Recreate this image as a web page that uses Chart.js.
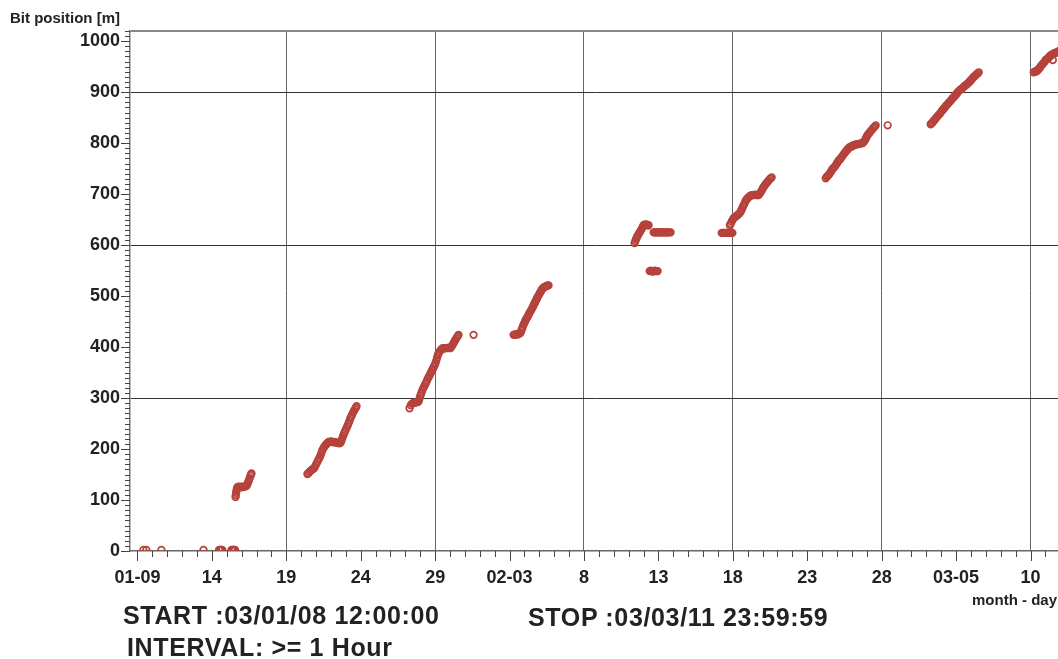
<!DOCTYPE html>
<html>
<head>
<meta charset="utf-8">
<script src="https://cdn.jsdelivr.net/npm/chart.js@4.4.0/dist/chart.umd.min.js"></script>
<style>
  html, body { margin: 0; padding: 0; background: #fff; overflow: hidden; }
  #wrap { position: relative; width: 1058px; height: 659px; overflow: hidden; }
  #chart { position: absolute; left: 0; top: 0; }
  .txt { position: absolute; font-family: "Liberation Sans", Arial, sans-serif; font-weight: bold;
         color: #222; white-space: nowrap; line-height: 1; }
  .big { font-size: 25px; letter-spacing: 0.65px; }
</style>
</head>
<body>
<div id="wrap">
  <canvas id="chart" width="1066" height="659"></canvas>
  <div class="txt" style="left:10px; top:10px; font-size:15px;">Bit position [m]</div>
  <div class="txt" style="right:1px; top:592px; font-size:15px;">month - day</div>
  <div class="txt big" style="left:123px; top:603px;">START :03/01/08 12:00:00</div>
  <div class="txt big" style="left:528px; top:605px;">STOP :03/03/11 23:59:59</div>
  <div class="txt big" style="left:127px; top:635px;">INTERVAL: &gt;= 1 Hour</div>
</div>
<script>
// x values are day-of-year 2003 (Jan 9 = 9, Feb 3 = 34, Mar 5 = 64), y is bit position in metres
const xMin = 8.5, xMax = 71;          // 03/01/08 12:00 .. 03/03/11 23:59:59
const yMin = 0, yMax = 1020;

// tick labels on the time axis
const labelDays = [9, 14, 19, 24, 29, 34, 39, 44, 49, 54, 59, 64, 69];
const labelText = ['01-09', '14', '19', '24', '29', '02-03', '8', '13', '18', '23', '28', '03-05', '10'];
const gridDays = [19, 29, 39, 49, 59, 69];
const gridDepths = [300, 600, 900];

// runs
const daysA = [9.40, 9.60, 10.61, 13.44, 14.48, 14.55, 14.62, 14.70, 15.32, 15.38, 15.44, 15.50, 15.56];
const posA  = [2, 2, 2, 2, 2, 2, 2, 2, 2, 2, 2, 2, 2];

const daysB = [15.59, 15.61, 15.63, 15.65, 15.68, 15.72, 15.78, 15.86, 15.94, 16.02, 16.10, 16.18, 16.26,
               16.33, 16.39, 16.44, 16.49, 16.54, 16.59, 16.63, 16.66];
const posB  = [106, 110, 114, 118, 122, 125, 126, 125, 126, 125, 126, 126, 127,
               128, 131, 135, 139, 143, 147, 150, 152];

const daysC = [20.42, 20.50, 20.58, 20.66, 20.74, 20.83, 20.90, 20.97, 21.04, 21.11, 21.18, 21.25, 21.32,
               21.38, 21.43, 21.50, 21.57, 21.64, 21.71, 21.78, 21.84, 21.92, 22.00, 22.08, 22.16, 22.24,
               22.32, 22.40, 22.48, 22.56, 22.64, 22.70, 22.76, 22.82, 22.88, 22.93, 22.98, 23.04, 23.10,
               23.15, 23.20, 23.26, 23.31, 23.37, 23.43, 23.49, 23.55, 23.61, 23.67, 23.72];
const posC  = [151, 153, 156, 158, 160, 161, 164, 168, 172, 176, 180, 184, 189,
               194, 198, 202, 205, 208, 210, 212, 214, 214, 215, 214, 213, 214,
               213, 212, 212, 211, 212, 216, 221, 226, 230, 234, 237, 241, 245,
               248, 252, 256, 261, 264, 268, 272, 275, 278, 281, 284];

const daysD = [27.28, 27.36, 27.44, 27.52, 27.60, 27.68, 27.76, 27.84, 27.90, 27.95, 28.00, 28.05, 28.10,
               28.15, 28.21, 28.27, 28.33, 28.39, 28.45, 28.51, 28.56, 28.62, 28.68, 28.74, 28.80, 28.86,
               28.92, 28.98, 29.03, 29.08, 29.13, 29.18, 29.23, 29.30, 29.37, 29.44, 29.50, 29.58, 29.66,
               29.74, 29.82, 29.90, 29.97, 30.03, 30.10, 30.17, 30.24, 30.30, 30.36, 30.42, 30.48, 30.53,
               30.57, 31.58];
const posD  = [280, 286, 289, 290, 291, 291, 292, 292, 294, 299, 304, 308, 312,
               316, 320, 323, 327, 330, 334, 338, 341, 344, 348, 351, 355, 358,
               362, 365, 369, 374, 379, 384, 388, 391, 394, 396, 398, 397, 398,
               398, 398, 399, 398, 398, 401, 404, 408, 411, 414, 417, 420, 422,
               424, 424];

const daysE = [34.27, 34.35, 34.43, 34.51, 34.59, 34.67, 34.74, 34.79, 34.84, 34.89, 34.94, 34.99, 35.04,
               35.08, 35.14, 35.20, 35.26, 35.32, 35.38, 35.44, 35.50, 35.55, 35.60, 35.65, 35.70, 35.75,
               35.80, 35.85, 35.88, 35.94, 36.00, 36.06, 36.12, 36.17, 36.22, 36.29, 36.36, 36.43, 36.50,
               36.56, 36.62];
const posE  = [424, 425, 424, 426, 425, 427, 428, 432, 436, 440, 444, 447, 450,
               453, 456, 459, 462, 466, 469, 472, 475, 478, 481, 484, 487, 490,
               493, 496, 498, 501, 504, 507, 510, 513, 515, 517, 518, 519, 520,
               521, 521];

const daysF = [42.40, 42.45, 42.50, 42.55, 42.60, 42.66, 42.72, 42.78, 42.84, 42.90, 42.96, 43.00, 43.06,
               43.12, 43.18, 43.24, 43.30, 43.34,
               43.68, 43.76, 43.84, 43.92, 44.00, 44.08, 44.16, 44.24, 44.32, 44.40, 44.48, 44.56, 44.64,
               44.72, 44.82,
               43.41, 43.48, 43.55, 43.62, 43.69, 43.76, 43.83, 43.90, 43.95];
const posF  = [604, 608, 612, 615, 618, 621, 624, 627, 630, 633, 636, 639, 640,
               640, 640, 640, 639, 639,
               625, 625, 625, 625, 625, 625, 625, 625, 625, 625, 625, 625, 625,
               625, 625,
               549, 550, 549, 548, 549, 550, 549, 549, 549];

const daysG = [48.25, 48.33, 48.41, 48.49, 48.57, 48.65, 48.73, 48.81, 48.89, 48.97, 48.80, 48.86, 48.92,
               48.98, 49.05, 49.12, 49.20, 49.28, 49.36, 49.44, 49.52, 49.58, 49.64, 49.70, 49.76, 49.82,
               49.88, 49.94, 49.99, 50.06, 50.13, 50.20, 50.27, 50.33, 50.41, 50.49, 50.57, 50.65, 50.73,
               50.80, 50.87, 50.94, 51.01, 51.07, 51.14, 51.21, 51.28, 51.35, 51.42, 51.49, 51.55, 51.61];
const posG  = [624, 624, 624, 624, 624, 624, 624, 624, 624, 624, 639, 642, 646,
               649, 653, 655, 656, 658, 660, 662, 665, 669, 673, 677, 680, 684,
               688, 690, 692, 694, 696, 697, 698, 698, 698, 699, 698, 698, 698,
               701, 704, 707, 711, 714, 717, 720, 722, 725, 727, 730, 731, 733];

const daysH = [55.24, 55.31, 55.38, 55.45, 55.52, 55.59, 55.65, 55.71, 55.78, 55.85, 55.92, 55.99, 56.05,
               56.12, 56.18, 56.25, 56.32, 56.39, 56.46, 56.53, 56.59, 56.66, 56.72, 56.78, 56.85, 56.92,
               56.99, 57.06, 57.12, 57.20, 57.28, 57.36, 57.44, 57.52, 57.60, 57.66, 57.72, 57.78, 57.84,
               57.90, 57.95, 58.00, 58.06, 58.13, 58.20, 58.27, 58.34, 58.41, 58.48, 58.54, 58.60, 59.40];
const posH  = [731, 734, 736, 738, 741, 744, 747, 750, 752, 754, 757, 760, 763,
               766, 768, 770, 773, 776, 779, 781, 784, 786, 788, 790, 792, 793,
               794, 795, 796, 797, 797, 798, 798, 799, 799, 800, 800, 802, 804,
               807, 810, 813, 816, 819, 821, 824, 826, 829, 831, 833, 835, 835];

const daysI = [62.29, 62.36, 62.43, 62.50, 62.57, 62.64, 62.71, 62.78, 62.85, 62.92, 62.99, 63.06, 63.13,
               63.17, 63.24, 63.31, 63.38, 63.45, 63.52, 63.59, 63.66, 63.73, 63.80, 63.87, 63.94, 64.01,
               64.06, 64.11, 64.18, 64.25, 64.32, 64.39, 64.46, 64.53, 64.60, 64.67, 64.74, 64.81, 64.88,
               64.94, 64.98, 65.04, 65.10, 65.16, 65.22, 65.28, 65.34, 65.40, 65.46, 65.52];
const posI  = [837, 839, 841, 844, 846, 849, 851, 854, 856, 858, 861, 864, 866,
               868, 870, 873, 875, 877, 880, 882, 884, 887, 889, 891, 894, 896,
               898, 900, 902, 904, 906, 907, 909, 911, 913, 914, 916, 918, 920,
               922, 923, 925, 927, 929, 931, 932, 934, 936, 937, 939];

const daysJ = [69.21, 69.27, 69.33, 69.39, 69.45, 69.51, 69.57, 69.63, 69.69, 69.75, 69.81, 69.87, 69.93,
               69.99, 70.05, 70.11, 70.16, 70.22, 70.28, 70.34, 70.40, 70.46, 70.52, 70.58, 70.64, 70.70,
               70.76, 70.82, 70.88, 70.94, 70.50];
const posJ  = [939, 940, 941, 941, 942, 944, 946, 948, 951, 953, 955, 957, 959,
               962, 964, 965, 966, 968, 970, 972, 973, 974, 975, 976, 977, 977,
               978, 979, 980, 981, 963];

const runs = [[daysA, posA], [daysB, posB], [daysC, posC], [daysD, posD], [daysE, posE],
              [daysF, posF], [daysG, posG], [daysH, posH], [daysI, posI], [daysJ, posJ]];

const points = [];
runs.forEach(([d, p]) => {
  const n = Math.min(d.length, p.length);
  for (let i = 0; i < n; i++) points.push({ x: d[i], y: p[i] });
});

const dayTicks = [];
for (let d = 9; d <= 70; d++) dayTicks.push(d);
const depthTicks = [];
for (let v = yMin; v <= yMax; v += 10) depthTicks.push(v);

const tickFont = { family: 'Liberation Sans', size: 18, weight: 'bold' };

// short tick marks outside the plot, long ones where there is a label
const tickMarks = {
  id: 'tickMarks',
  afterDraw(chart) {
    const { ctx, chartArea, scales: { x, y } } = chart;
    ctx.save();
    ctx.strokeStyle = '#444';
    ctx.lineWidth = 1;
    ctx.beginPath();
    x.ticks.forEach(t => {
      const px = Math.round(x.getPixelForValue(t.value)) + 0.5;
      const len = labelDays.includes(t.value) ? 10 : 6;
      ctx.moveTo(px, chartArea.bottom);
      ctx.lineTo(px, chartArea.bottom + len);
    });
    y.ticks.forEach(t => {
      const py = Math.round(y.getPixelForValue(t.value)) + 0.5;
      const len = t.value % 100 === 0 ? 9 : 5;
      ctx.moveTo(chartArea.left - len, py);
      ctx.lineTo(chartArea.left, py);
    });
    ctx.stroke();
    ctx.restore();
  }
};

new Chart(document.getElementById('chart').getContext('2d'), {
  type: 'scatter',
  data: {
    datasets: [{
      data: points,
      pointStyle: 'circle',
      pointRadius: 3.3,
      pointBorderWidth: 1.7,
      borderColor: '#b5433b',
      backgroundColor: 'rgba(255,255,255,0)'
    }]
  },
  options: {
    responsive: false,
    animation: false,
    devicePixelRatio: 1,
    layout: { padding: { left: 0, top: 31, right: 2, bottom: 0 } },
    plugins: { legend: { display: false }, tooltip: { enabled: false } },
    scales: {
      x: {
        type: 'linear',
        min: xMin,
        max: xMax,
        afterBuildTicks: s => { s.ticks = dayTicks.map(v => ({ value: v })); },
        afterFit: s => { s.height = 108; },
        ticks: {
          autoSkip: false,
          maxRotation: 0,
          padding: 16,
          color: '#222',
          font: tickFont,
          callback: v => {
            const i = labelDays.indexOf(v);
            return i >= 0 ? labelText[i] : '';
          }
        },
        grid: {
          drawTicks: false,
          color: c => gridDays.includes(c.tick && c.tick.value) ? '#666' : 'rgba(0,0,0,0)',
          lineWidth: 1
        },
        border: { color: '#666', width: 1.5 }
      },
      y: {
        type: 'linear',
        min: yMin,
        max: yMax,
        afterBuildTicks: s => { s.ticks = depthTicks.map(v => ({ value: v })); },
        afterFit: s => { s.width = 130; },
        ticks: {
          autoSkip: false,
          padding: 10,
          color: '#222',
          font: tickFont,
          callback: v => (v % 100 === 0 && v <= 1000) ? String(v) : ''
        },
        grid: {
          drawTicks: false,
          color: c => {
            const v = c.tick && c.tick.value;
            if (v === yMax) return '#888';
            return gridDepths.includes(v) ? '#333' : 'rgba(0,0,0,0)';
          },
          lineWidth: c => (c.tick && c.tick.value === yMax) ? 2 : 1
        },
        border: { color: '#777', width: 1.5 }
      }
    }
  },
  plugins: [tickMarks]
});
</script>
</body>
</html>
